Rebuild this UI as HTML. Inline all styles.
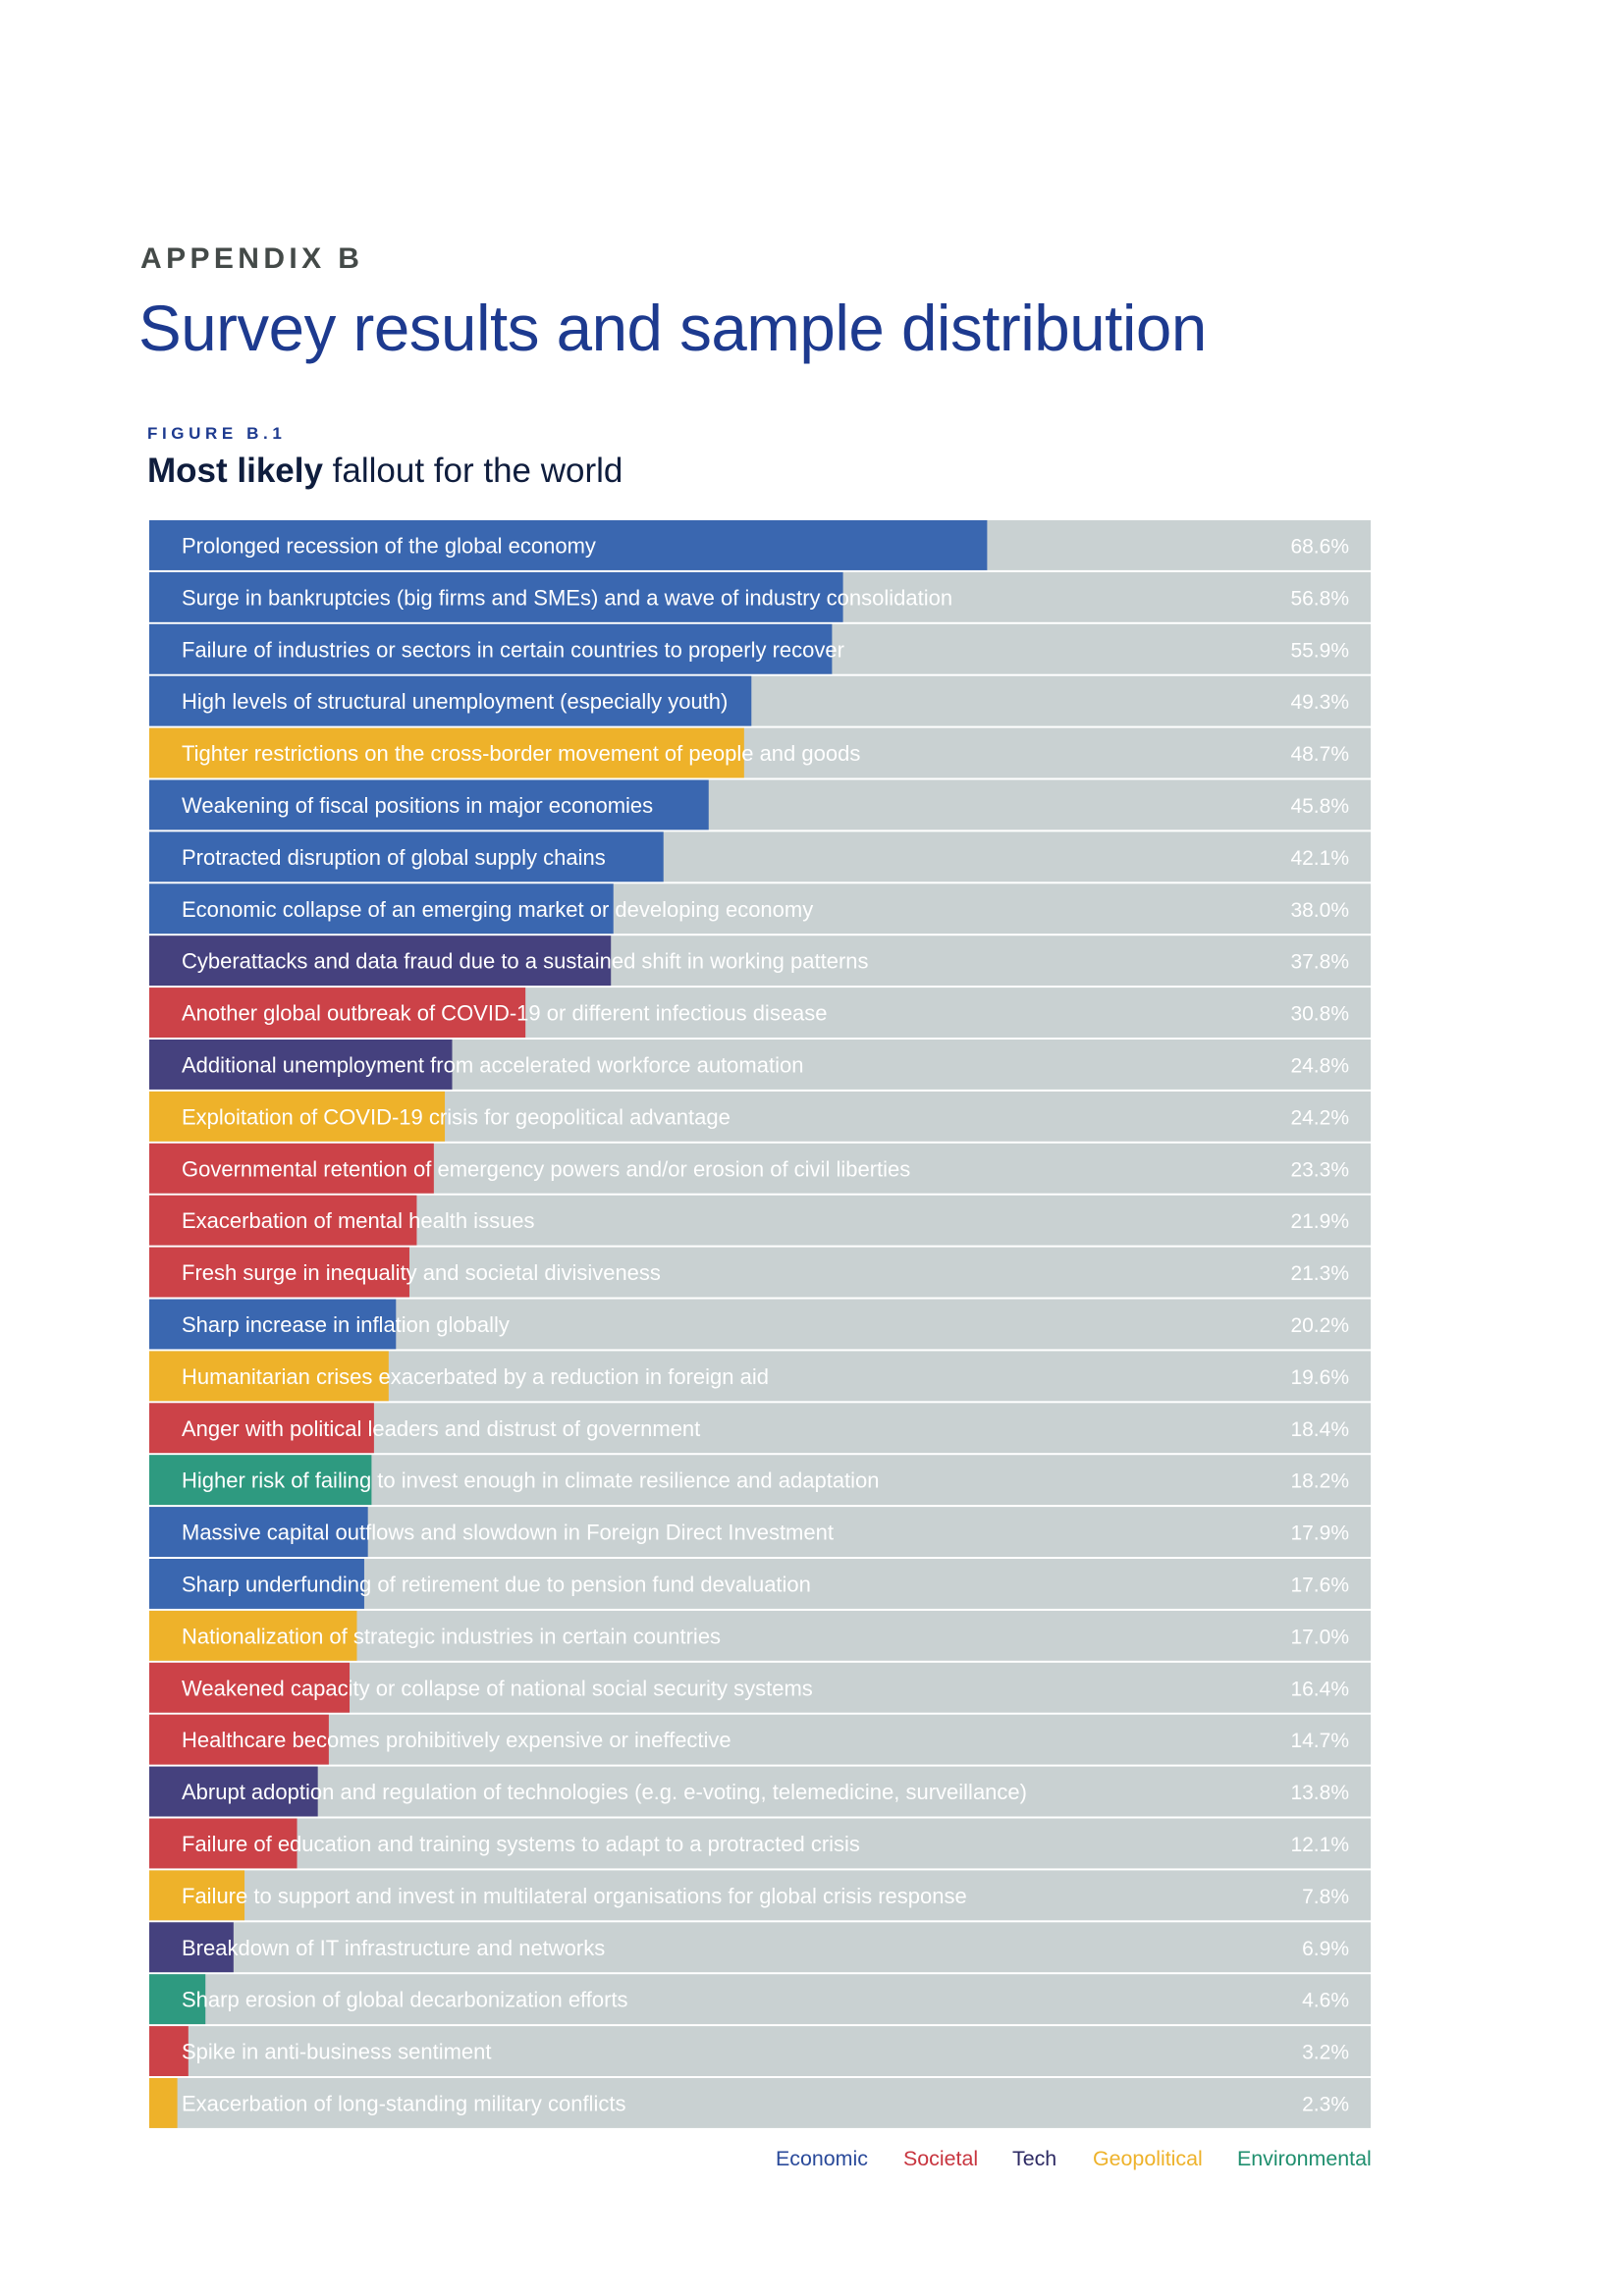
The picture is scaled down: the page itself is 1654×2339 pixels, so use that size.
<!DOCTYPE html>
<html><head><meta charset="utf-8">
<style>
body{margin:0;width:1654px;height:2339px;background:#fff;font-family:"Liberation Sans",Arial,sans-serif;position:relative;overflow:hidden}
.abs{position:absolute;white-space:nowrap}
</style></head><body>
<div class="abs" style="left:143px;top:247px;font-size:30px;font-weight:bold;letter-spacing:4.4px;color:#444a48">APPENDIX B</div>
<div class="abs" style="left:141px;top:297px;font-size:65.5px;color:#1d3a8f;letter-spacing:-0.5px">Survey results and sample distribution</div>
<div class="abs" style="left:150px;top:432px;font-size:17px;font-weight:bold;letter-spacing:4.6px;color:#1d3a8f">FIGURE B.1</div>
<div class="abs" style="left:150px;top:460px;font-size:35px;color:#0f1d3d"><b>Most likely</b> fallout for the world</div>
<svg id="chart" width="1654" height="2339" style="position:absolute;left:0;top:0"></svg>
<script>
const labels=["Prolonged recession of the global economy","Surge in bankruptcies (big firms and SMEs) and a wave of industry consolidation","Failure of industries or sectors in certain countries to properly recover","High levels of structural unemployment (especially youth)","Tighter restrictions on the cross-border movement of people and goods","Weakening of fiscal positions in major economies","Protracted disruption of global supply chains","Economic collapse of an emerging market or developing economy","Cyberattacks and data fraud due to a sustained shift in working patterns","Another global outbreak of COVID-19 or different infectious disease","Additional unemployment from accelerated workforce automation","Exploitation of COVID-19 crisis for geopolitical advantage","Governmental retention of emergency powers and/or erosion of civil liberties","Exacerbation of mental health issues","Fresh surge in inequality and societal divisiveness","Sharp increase in inflation globally","Humanitarian crises exacerbated by a reduction in foreign aid","Anger with political leaders and distrust of government","Higher risk of failing to invest enough in climate resilience and adaptation","Massive capital outflows and slowdown in Foreign Direct Investment","Sharp underfunding of retirement due to pension fund devaluation","Nationalization of strategic industries in certain countries","Weakened capacity or collapse of national social security systems","Healthcare becomes prohibitively expensive or ineffective","Abrupt adoption and regulation of technologies (e.g. e-voting, telemedicine, surveillance)","Failure of education and training systems to adapt to a protracted crisis","Failure to support and invest in multilateral organisations for global crisis response","Breakdown of IT infrastructure and networks","Sharp erosion of global decarbonization efforts","Spike in anti-business sentiment","Exacerbation of long-standing military conflicts"];
const values=[68.6,56.8,55.9,49.3,48.7,45.8,42.1,38.0,37.8,30.8,24.8,24.2,23.3,21.9,21.3,20.2,19.6,18.4,18.2,17.9,17.6,17.0,16.4,14.7,13.8,12.1,7.8,6.9,4.6,3.2,2.3];
const cats=["E","E","E","E","G","E","E","E","T","S","T","G","S","S","S","E","G","S","V","E","E","G","S","S","T","S","G","T","V","S","G"];
const colors={E:"#3a67b0",S:"#cc4248",T:"#45417e",G:"#eeb22a",V:"#2e9a80"};
const X0=152,X1=1396,Y0=530,RH=52.9;
const x=v=>X0+(X1-X0)*v/100;
const y=i=>Y0+RH*i;
const svg=document.getElementById('chart');
const NS="http://www.w3.org/2000/svg";
function mk(t,a){const e=document.createElementNS(NS,t);for(const k in a)e.setAttribute(k,a[k]);svg.appendChild(e);return e;}
values.forEach((v,i)=>{
 const bg=mk('rect',{x:X0,y:y(i),width:X1-X0,height:RH-2,fill:"#c9d1d2"});
 
 
 const b=mk('rect',{x:X0,y:y(i),width:x(v)-X0,height:RH-2,fill:colors[cats[i]]});
 
 
 const t=mk('text',{x:185,y:y(i)+RH/2+7,fill:"#fff","font-size":22,"font-family":"Liberation Sans, Arial, sans-serif"});
 t.textContent=labels[i];
 
 
 const p=mk('text',{x:1374,y:y(i)+RH/2+7,fill:"#fff","font-size":21,"text-anchor":"end","font-family":"Liberation Sans, Arial, sans-serif"});
 p.textContent=v.toFixed(1)+"%";
 
 
});
const legend=[["Economic","#2a4a9a"],["Societal","#c8353f"],["Tech","#2d2a63"],["Geopolitical","#eeb22a"],["Environmental","#1f8f6e"]];
const lx=[790,920,1031,1113,1260];
legend.forEach((l,i)=>{
 const t=mk('text',{x:lx[i],y:2206,fill:l[1],"font-size":21.4,"font-family":"Liberation Sans, Arial, sans-serif"});
 t.textContent=l[0];
 
 
});
</script>
</body></html>
